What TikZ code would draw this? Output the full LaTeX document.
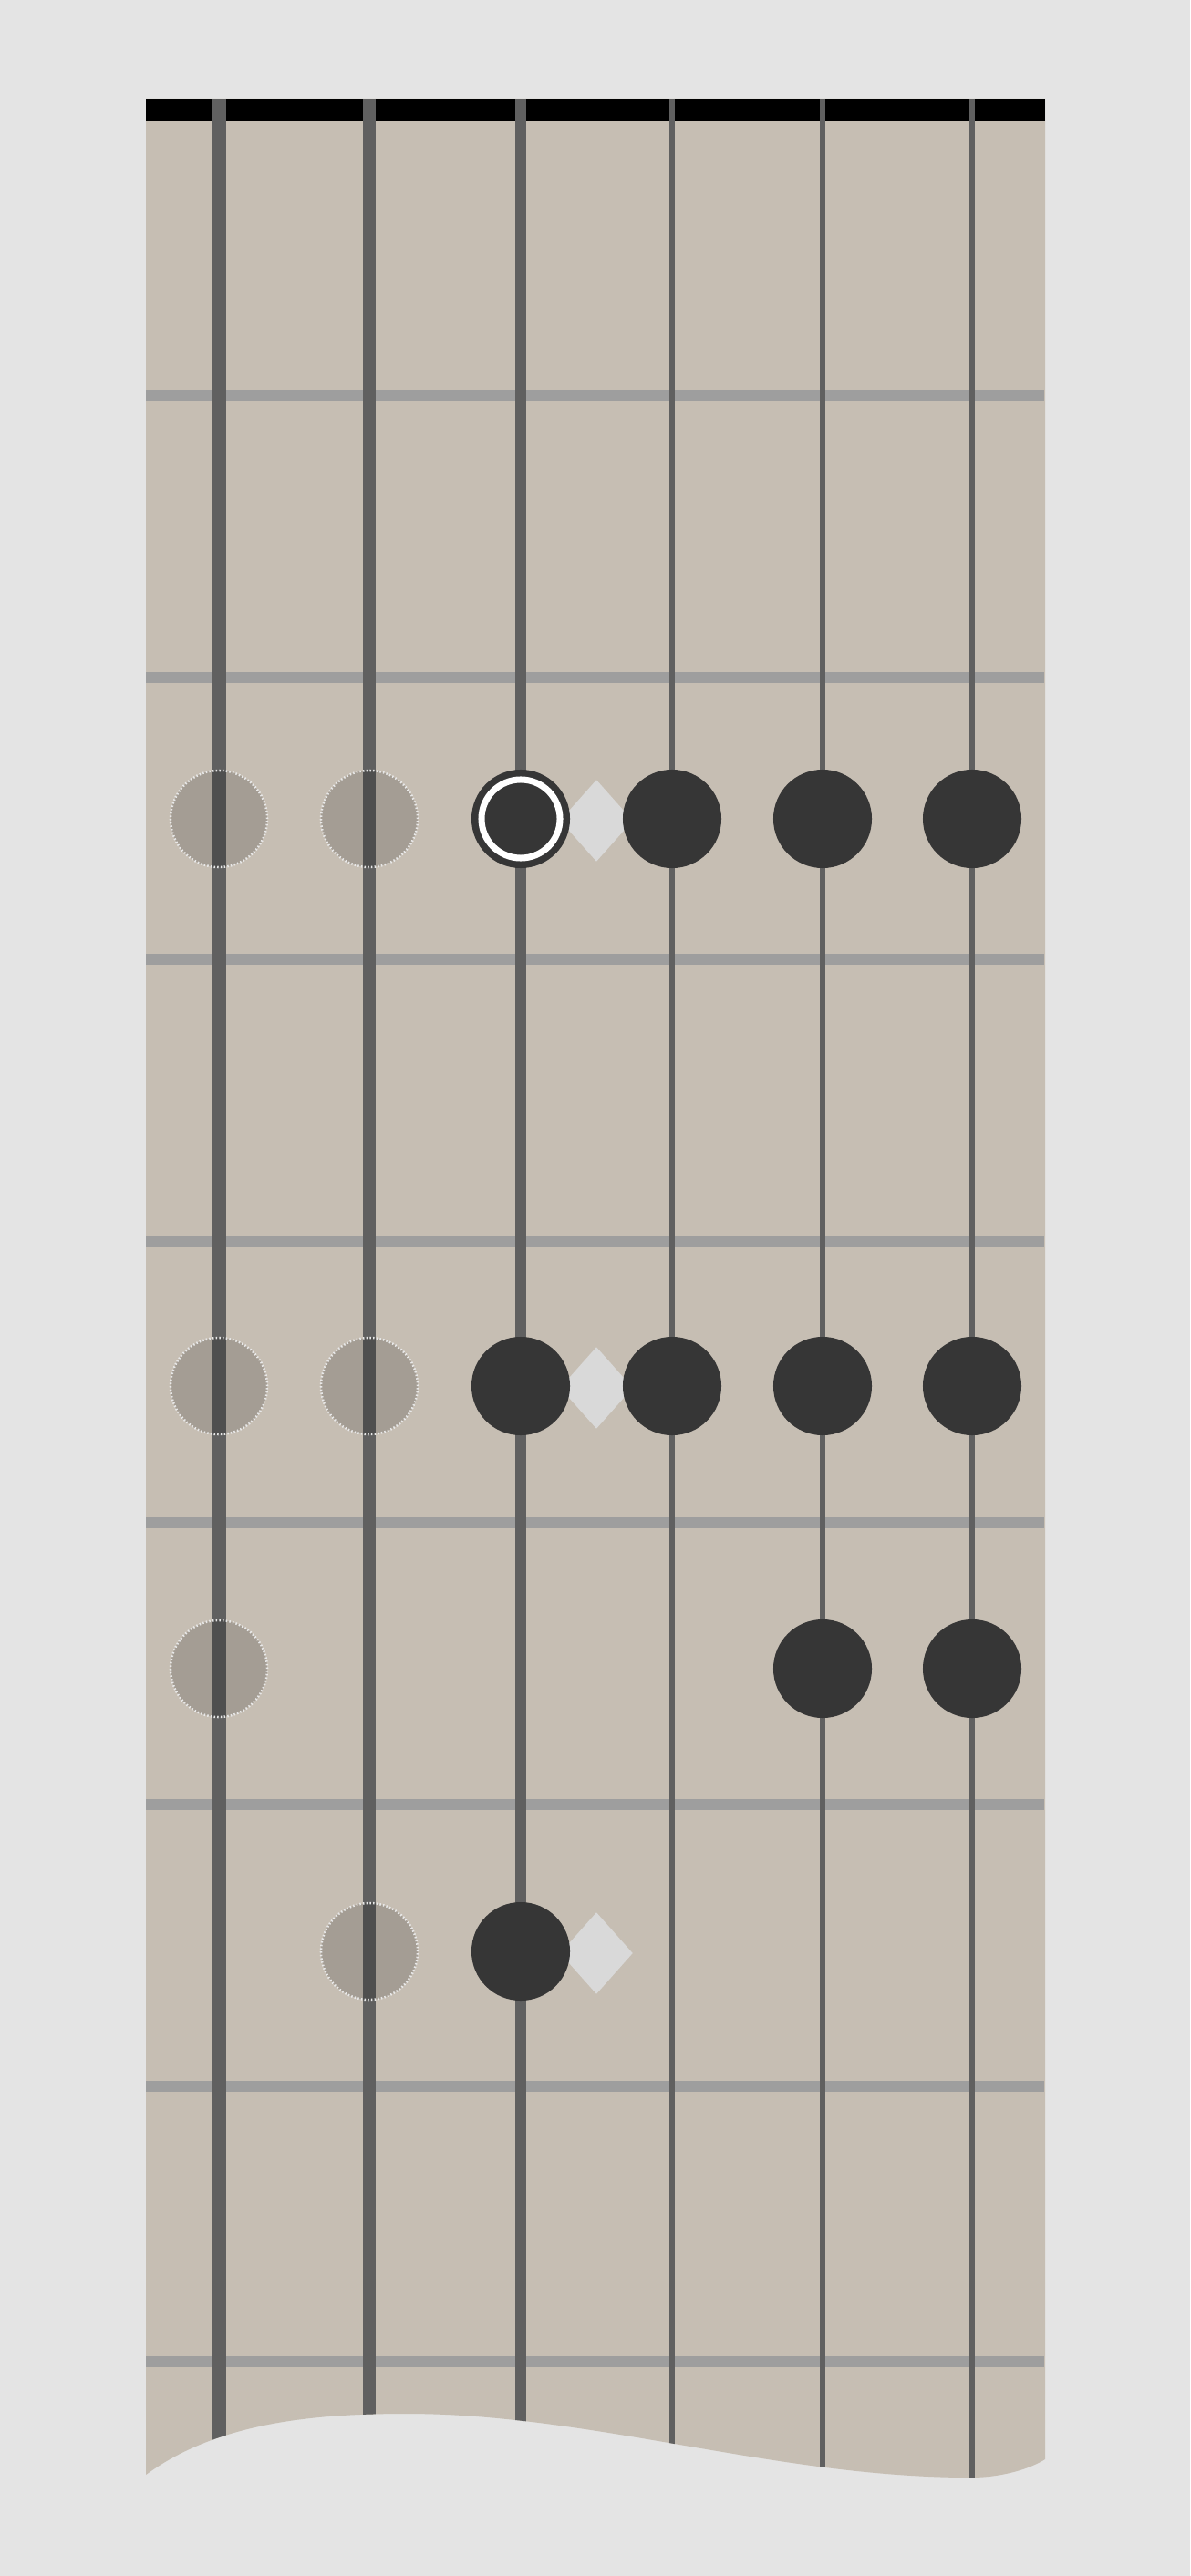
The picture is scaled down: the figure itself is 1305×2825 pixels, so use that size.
\documentclass[tikz,border=0pt]{standalone}
\usepackage{xcolor}
\usepackage{tikz}
\usetikzlibrary{shapes.geometric}

\definecolor{pagebg}{HTML}{E4E4E4}
\definecolor{neckwood}{HTML}{C6BEB3}
\definecolor{fretwire}{HTML}{9E9E9E}
\definecolor{stringcol}{HTML}{606060}
\definecolor{notedark}{HTML}{363636}
\definecolor{inlaycol}{HTML}{D9D9D9}

% outline of the neck, wavy cut at the bottom
\newcommand{\neckoutline}{(160,109) -- (1146,109) -- (1146,2697)
    .. controls (1130,2707) and (1100,2717) .. (1064,2717)
    .. controls (850,2717) and (650,2647) .. (446,2647)
    .. controls (350,2647) and (240,2655) .. (160,2714) -- cycle}

\begin{document}
\begin{tikzpicture}[
        x=0.01cm, y=-0.01cm, % one unit = one pixel of the reference
        % Define the styles for the dots
        note/.style={
            circle, fill=notedark, inner sep=0pt, minimum size=1.08cm
        },
        rootnote/.style={
            note,
            path picture={\draw[white, line width=0.07cm]
                (path picture bounding box.center) circle (0.43cm);}
        },
        ghostnote/.style={
            circle, inner sep=0pt, minimum size=1.06cm,
            fill=black, fill opacity=0.17,
            draw=white!82!gray, line width=0.025cm,
            dash pattern=on 0.015cm off 0.022cm
        },
        inlay/.style={
            diamond, fill=inlaycol, inner sep=0pt,
            minimum width=0.8cm, minimum height=0.9cm
        }
    ]

    % ==========================
    % PAGE AND NECK
    % ==========================
    \useasboundingbox (0,0) rectangle (1305,2825);
    \fill[pagebg] (0,0) rectangle (1305,2825);
    \fill[neckwood] \neckoutline;

    % Nut
    \fill[black] (160,109) rectangle (1146,133);

    % Frets
    \foreach \fy in {434, 743, 1052, 1361, 1670, 1979, 2288, 2590}
        \draw[fretwire, line width=0.12cm] (160,\fy) -- (1145,\fy);

    % ==========================
    % INLAYS
    % ==========================
    \node[inlay] (dot3) at (654, 900)  {};
    \node[inlay] (dot5) at (654, 1522) {};
    \node[inlay] (dot7) at (654, 2142) {};

    % ==========================
    % STRINGS (cut off by the wavy edge)
    % ==========================
    \begin{scope}
        \clip \neckoutline;
        \foreach \sx/\sw in {240/16, 405/14, 571/12, 737/6, 902/6, 1066/6}
            \draw[stringcol, line width=\sw*0.01cm] (\sx,109) -- (\sx,2800);
    \end{scope}

    % ==========================
    % FRET 3
    % ==========================
    \node[ghostnote] (f3s1) at (240, 898) {};
    \node[ghostnote] (f3s2) at (405, 898) {};
    \node[rootnote]  (f3s3) at (571, 898) {};
    \node[note]      (f3s4) at (737, 898) {};
    \node[note]      (f3s5) at (902, 898) {};
    \node[note]      (f3s6) at (1066, 898) {};

    % ==========================
    % FRET 5
    % ==========================
    \node[ghostnote] (f5s1) at (240, 1520) {};
    \node[ghostnote] (f5s2) at (405, 1520) {};
    \node[note]      (f5s3) at (571, 1520) {};
    \node[note]      (f5s4) at (737, 1520) {};
    \node[note]      (f5s5) at (902, 1520) {};
    \node[note]      (f5s6) at (1066, 1520) {};

    % ==========================
    % FRET 6
    % ==========================
    \node[ghostnote] (f6s1) at (240, 1830) {};
    \node[note]      (f6s5) at (902, 1830) {};
    \node[note]      (f6s6) at (1066, 1830) {};

    % ==========================
    % FRET 7
    % ==========================
    \node[ghostnote] (f7s2) at (405, 2140) {};
    \node[note]      (f7s3) at (571, 2140) {};

\end{tikzpicture}
\end{document}
